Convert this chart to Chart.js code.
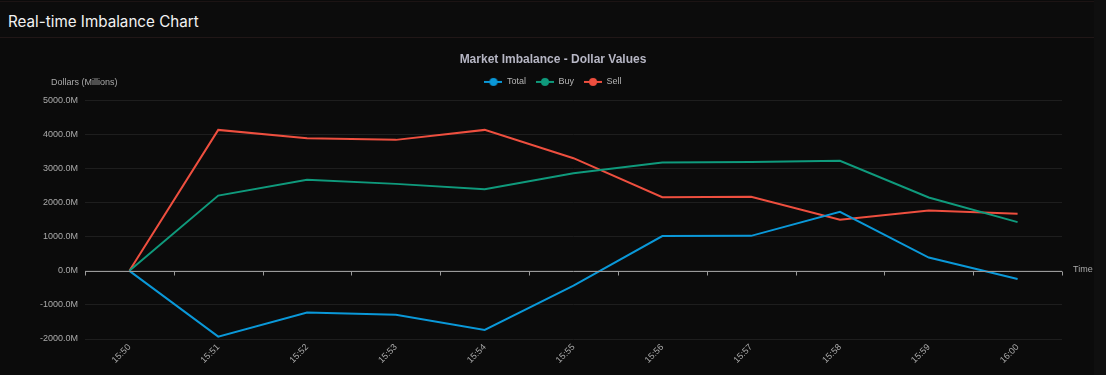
<!DOCTYPE html>
<html>
<head>
<meta charset="utf-8">
<script src="https://cdn.jsdelivr.net/npm/chart.js@4.4.1/dist/chart.umd.min.js"></script>
<style>
  html, body { margin: 0; padding: 0; background: #0b0b0b; overflow: hidden; }
  body { width: 1106px; height: 375px; position: relative; }
  #header { position: absolute; left: 0; top: 1px; width: 1094px; height: 35px; border-top: 1px solid #1c1414; border-bottom: 1px solid #211717; background: #0c0c0c; }
  #header h1 { margin: 0; position: absolute; left: 8px; top: 10px; font-family: Inter, "Open Sans", sans-serif; font-weight: 400; font-size: 15.2px; color: #f2f2f2; letter-spacing: 0; }
  #strip { position: absolute; left: 1094px; top: 0; width: 12px; height: 375px; background: #0f0f0f; }
  #wrap { position: absolute; left: 0; top: 40px; width: 1106px; height: 335px; }
</style>
</head>
<body>
<div id="header"><h1>Real-time Imbalance Chart</h1></div>
<div id="strip"></div>
<div id="wrap"><canvas id="c" width="1106" height="335"></canvas></div>
<script>
const timeLabels = ['15:50','15:51','15:52','15:53','15:54','15:55','15:56','15:57','15:58','15:59','16:00'];
const totalValues = [0, -1930, -1222, -1290, -1735, -437, 1020, 1026, 1730, 390, -240];
const buyValues = [0, 2208, 2669, 2551, 2396, 2865, 3176, 3196, 3226, 2150, 1428];
const sellValues = [0, 4135, 3891, 3842, 4135, 3305, 2161, 2170, 1496, 1768, 1672];
const yTicks = [-2000, -1000, 0, 1000, 2000, 3000, 4000, 5000];

const colTotal = '#0a98d8';
const colBuy = '#0f9a7c';
const colSell = '#ee4f3f';

function legendIcon(color) {
  const cv = document.createElement('canvas');
  cv.width = 18; cv.height = 10;
  const g = cv.getContext('2d');
  g.strokeStyle = color; g.lineWidth = 2;
  g.beginPath(); g.moveTo(0, 5); g.lineTo(18, 5); g.stroke();
  g.fillStyle = color;
  g.beginPath(); g.arc(9, 5, 4, 0, Math.PI * 2); g.fill();
  return cv;
}

const extras = {
  id: 'extras',
  afterDraw(chart) {
    const { ctx, chartArea, scales } = chart;
    const y = scales.y;
    const y0 = Math.round(y.getPixelForValue(0)) + 0.5;
    ctx.save();
    ctx.strokeStyle = '#9a9a9a';
    ctx.lineWidth = 1;
    ctx.beginPath();
    ctx.moveTo(chartArea.left, y0); ctx.lineTo(chartArea.right, y0);
    const n = timeLabels.length;
    const step = (chartArea.right - chartArea.left) / n;
    for (let i = 0; i <= n; i++) {
      const px = Math.round(chartArea.left + i * step) + 0.5;
      ctx.moveTo(px, y0); ctx.lineTo(px, y0 + 4);
    }
    ctx.stroke();
    ctx.fillStyle = '#aaaaaa';
    ctx.font = '9px "Liberation Sans", Arial, sans-serif';
    ctx.textBaseline = 'middle';
    ctx.textAlign = 'left';
    ctx.fillText('Time', chartArea.right + 11, y0 - 2);
    ctx.fillText('Dollars (Millions)', 51, chartArea.top - 18);
    ctx.restore();
  }
};

const chart = new Chart(document.getElementById('c'), {
  type: 'line',
  data: {
    labels: timeLabels,
    datasets: [
      { label: 'Total', data: totalValues, borderColor: colTotal, backgroundColor: colTotal, pointStyle: legendIcon(colTotal) },
      { label: 'Buy', data: buyValues, borderColor: colBuy, backgroundColor: colBuy, pointStyle: legendIcon(colBuy) },
      { label: 'Sell', data: sellValues, borderColor: colSell, backgroundColor: colSell, pointStyle: legendIcon(colSell) }
    ]
  },
  options: {
    responsive: false,
    animation: false,
    devicePixelRatio: 1,
    elements: { line: { borderWidth: 2, tension: 0 }, point: { radius: 0, hoverRadius: 0 } },
    layout: { padding: { left: 0, right: 0, top: 0, bottom: 0 } },
    plugins: {
      title: {
        display: true,
        text: 'Market Imbalance - Dollar Values',
        color: '#b6b6c4',
        font: { family: '"Liberation Sans", Arial, sans-serif', size: 12, weight: 'bold' },
        padding: { top: 12, bottom: 1 }
      },
      legend: {
        display: true,
        labels: {
          usePointStyle: true,
          pointStyleWidth: 18,
          padding: 10,
          color: '#b4b4b4',
          font: { family: '"Liberation Sans", Arial, sans-serif', size: 9 }
        }
      },
      tooltip: { enabled: false }
    },
    scales: {
      x: {
        type: 'category',
        offset: true,
        grid: { display: false, drawTicks: false },
        border: { display: false },
        ticks: {
          color: '#aaaaaa',
          font: { family: '"Liberation Sans", Arial, sans-serif', size: 9 },
          minRotation: 45, maxRotation: 45, padding: 3, autoSkip: false
        },
        afterFit(scale) { scale.height = 36; }
      },
      y: {
        min: -2000, max: 5000,
        afterBuildTicks(scale) { scale.ticks = yTicks.map(v => ({ value: v })); },
        grid: { color: '#1e1e1e', drawTicks: false },
        border: { display: false },
        ticks: {
          color: '#aaaaaa',
          font: { family: '"Liberation Sans", Arial, sans-serif', size: 9 },
          padding: 7,
          callback: v => Number(v).toFixed(1) + 'M'
        },
        afterFit(scale) { scale.width = 85; }
      },
      ySpace: {
        position: 'right',
        min: 0, max: 1,
        grid: { display: false, drawTicks: false },
        border: { display: false },
        ticks: { display: false },
        afterFit(scale) { scale.width = 44; }
      }
    }
  },
  plugins: [extras]
});

const origFit = chart.legend.fit;
chart.legend.fit = function () { origFit.call(this); this.height += 4; };
chart.update();
</script>
</body>
</html>
